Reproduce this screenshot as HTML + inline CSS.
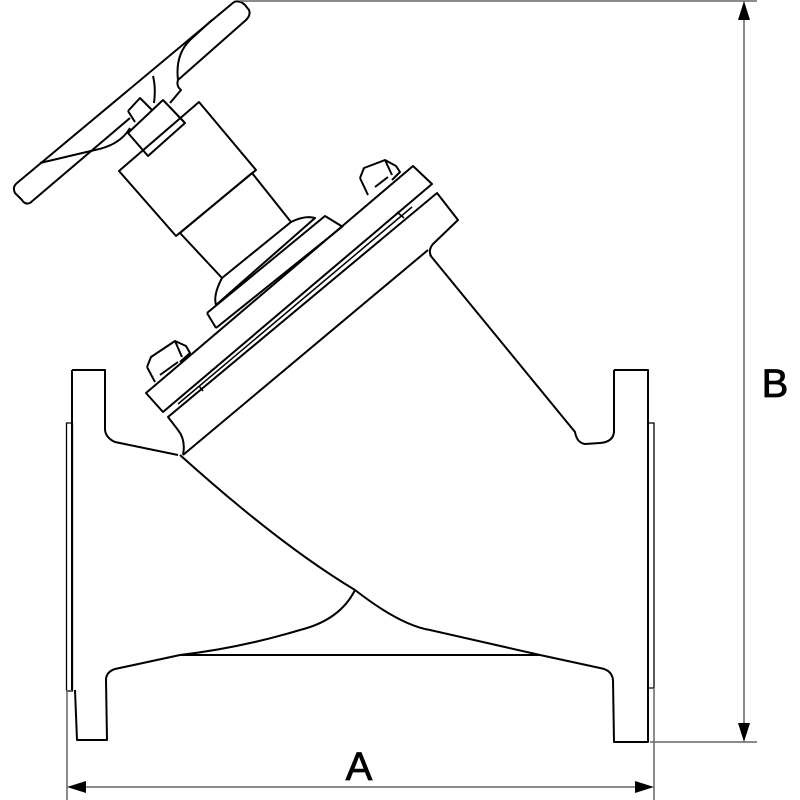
<!DOCTYPE html>
<html><head><meta charset="utf-8"><style>html,body{margin:0;padding:0;background:#fff}svg{display:block}</style></head>
<body>
<svg width="800" height="800" viewBox="0 0 800 800" xmlns="http://www.w3.org/2000/svg">
<g fill="none" stroke="#000" stroke-width="2" stroke-linejoin="round">
<path d="M72,370 H105 V430 Q106,438 115,442 L178,455 M180,655 L115,669 Q106,672 106,680 L107,740 H77 L75,690"/>
<path d="M72,370 V690" />
<rect x="66.5" y="423" width="6" height="268" stroke-width="1.3"/>
<path d="M614,370 H648 V742 H614 L613,680 Q612,670 600,668 L540,655"/>
<path d="M614,370 V432 Q613,442 600,443 L585,444 Q577,443 575,432 L430,255"/>
<rect x="648" y="423" width="6" height="265" stroke-width="1.3"/>
<path d="M180,655 H540"/>
<path d="M180,455 Q280,545 355,590 Q400,625 430,630 L540,655"/>
<path d="M355,590 Q340,620 300,630 Q240,648 180,655"/>
<path d="M183,455 Q186,440 178,430 L168,417 L437,193 L458,220 L433,244 Q428,250 431,256"/>
<path d="M183,455 L428,250"/>
<path d="M146,393 L413,166 L432,184 L163,412 Z"/>
<path d="M178,404 L412,207 M199,386 L203,391 M397,212 L404,218" stroke-width="1.5"/>
<path d="M207,313 L325,216 L343,227 M216,328 L207,313"/>
<path d="M216,328 L343,226"/>
<path d="M222,278 Q213,295 216,305 L315,218 Q305,215 291,222"/>
<path d="M180,233 L252,173 L291,222 L222,278 Z"/>
<path d="M119,171 L199,102 L256,170 L176,236 Z"/>
<path d="M128,133 L163,100 L185,123 L148,156 Z"/>
<path d="M128,111 L140,98 L152,110 M135,122 L128,111"/>
<path d="M234,2 Q240,0 245,5 L249,10 Q251,15 246,20 L178,80 Q176,86 181,90 L170,103"/>
<path d="M130,118 L30,203 Q25,205 22,200 L15,193 Q12,187 17,183 L234,2"/>
<path d="M178,80 Q175,55 190,40 L212,20 M153,76 Q156,88 154,103 M40,163 L95,150 Q120,145 130,128"/>
<path d="M360,178 L364,168 L385,160 L396,166 L400,172 L392,180 M360,178 L368,195 M375,187 L388,177 M385,160 L392,175"/>
<path d="M147,367 L151,357 L175,341 L186,346 L190,353 L180,362 M147,367 L155,382 M160,375 L178,362 M175,341 L182,357"/>
</g>
<g stroke="#666" stroke-width="1.5" fill="none">
<path d="M240,1 H757 M650,742 H757 M744,12 V730 M67,690 V800 M654,688 V800 M78,787 H643"/>
</g>
<g fill="#000">
<path d="M744,1 L738,20 L750,20 Z M744,742 L738,723 L750,723 Z M67,787 L86,781 L86,793 Z M654,787 L635,781 L635,793 Z"/>
</g>
<text x="775" y="397" font-family="Liberation Sans Narrow, Liberation Sans, sans-serif" font-size="40" fill="#000" stroke="#000" stroke-width="0.8" text-anchor="middle">B</text>
<text x="359" y="780" font-family="Liberation Sans Narrow, Liberation Sans, sans-serif" font-size="40" fill="#000" stroke="#000" stroke-width="0.8" text-anchor="middle">A</text>
</svg>
</body></html>
